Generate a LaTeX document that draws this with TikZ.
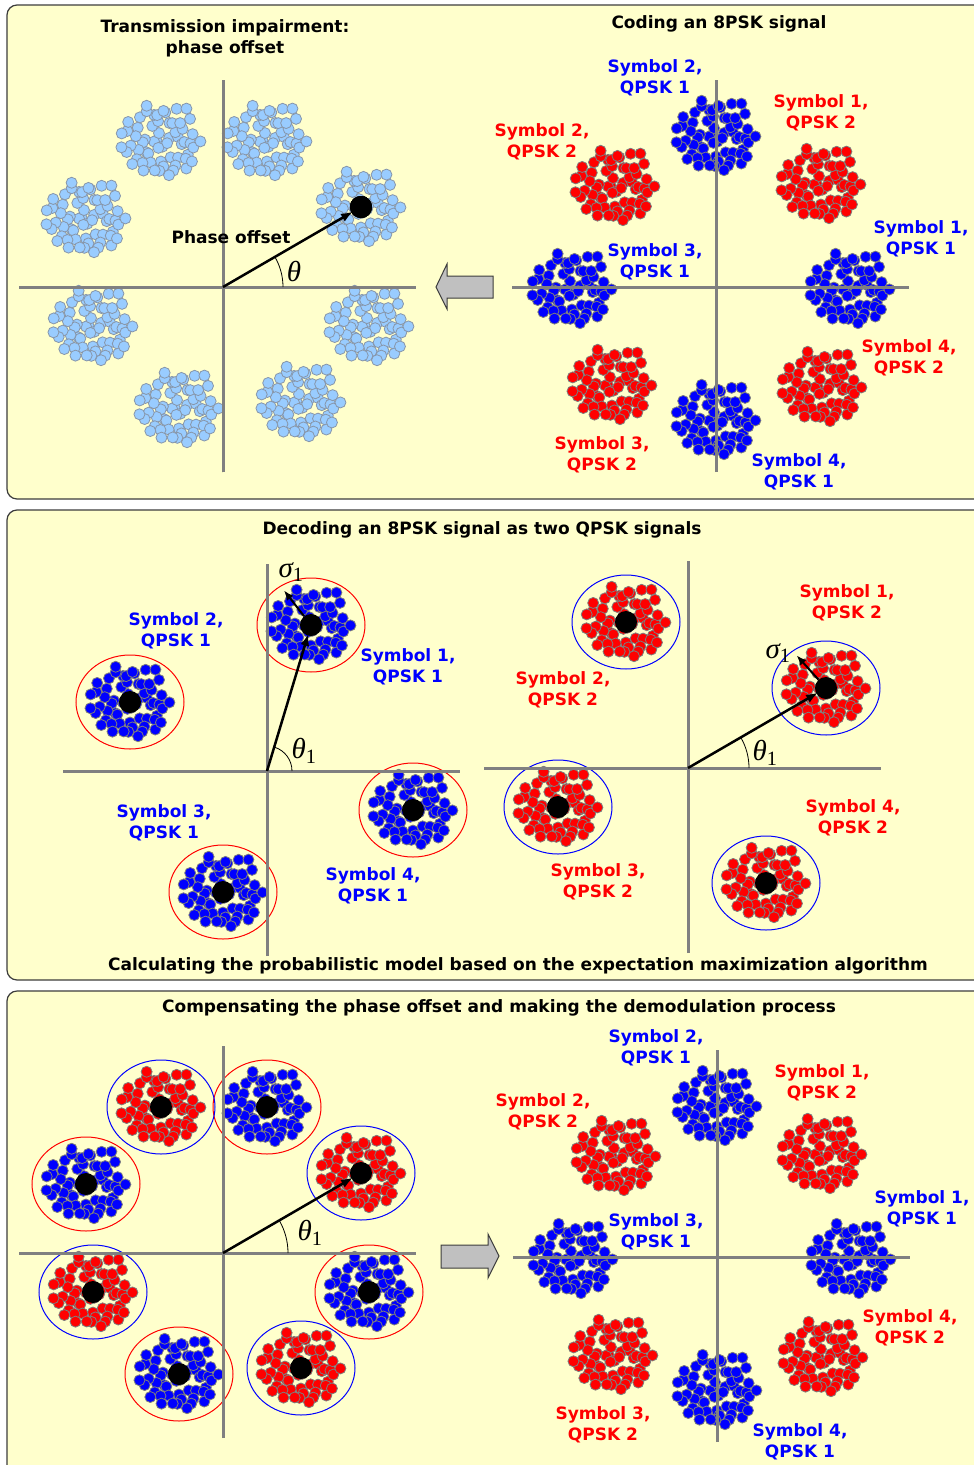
\documentclass[tikz,border=0pt]{standalone}
\usepackage{fontspec}
\setmainfont{DejaVu Sans}
\newfontfamily\greekfont{Liberation Serif}
\usetikzlibrary{arrows.meta}
\definecolor{PanelFill}{RGB}{255,255,204}
\definecolor{PanelEdge}{RGB}{60,60,60}
\definecolor{AxisGray}{RGB}{128,128,128}
\definecolor{QBlue}{RGB}{0,0,255}
\definecolor{QRed}{RGB}{255,0,0}
\definecolor{PaleBlue}{RGB}{153,204,255}
\definecolor{PaleEdge}{RGB}{135,150,170}
\definecolor{DotEdge}{RGB}{125,125,125}
\definecolor{ArrowFill}{RGB}{192,192,192}

\tikzset{
  panel/.style={fill=PanelFill,draw=PanelEdge,line width=1.2,rounded corners=10},
  axis/.style={draw=AxisGray,line width=3},
  bluedot/.style={fill=QBlue,draw=DotEdge,line width=0.8},
  reddot/.style={fill=QRed,draw=DotEdge,line width=0.8},
  paledot/.style={fill=PaleBlue,draw=PaleEdge,line width=0.8},
  redring/.style={draw=QRed,line width=1},
  bluering/.style={draw=QBlue,line width=1},
  centroid/.style={circle,fill=black,inner sep=0,minimum size=22},
  vec/.style={-{Latex[length=12pt,width=9pt]},line width=2.5,shorten >=-2},
  sigvec/.style={-{Latex[length=10pt,width=8pt]},line width=2},
  bluetxt/.style={text=QBlue,align=center,inner sep=0},
  redtxt/.style={text=QRed,align=center,inner sep=0},
  title/.style={align=center,inner sep=0},
  greek/.style={font=\greekfont\mdseries\itshape\fontsize{29}{29}\selectfont,inner sep=0},
  blockarrow/.style={fill=ArrowFill,draw=PanelEdge,line width=1}
}

% one noisy cluster of received symbols (sunflower spread plus jitter),
% the same pattern everywhere
\newcommand{\dotcloud}[2]{%
  \begin{scope}[shift={#1}]
    \pgfmathsetseed{2718}
    \foreach \k in {1,...,62}{
      \pgfmathsetmacro{\ang}{137.508*\k}
      \pgfmathsetmacro{\rad}{sqrt((\k-0.5)/62)}
      \pgfmathsetmacro{\jx}{8*rnd-4}
      \pgfmathsetmacro{\jy}{8*rnd-4}
      \path[#2] ({41*\rad*cos(\ang)+\jx},{37*\rad*sin(\ang)+\jy}) circle[radius=5.5];
    }
  \end{scope}}

\newcommand{\drawaxes}{%
  \draw[axis] (-204,0) -- (193,0);
  \draw[axis] (0,-185) -- (0,207);}

% 8PSK constellation split into QPSK 1 (blue) and QPSK 2 (red)
\newcommand{\codingset}[1]{%
  \dotcloud{(0,151)}{bluedot}
  \dotcloud{(134,-2)}{bluedot}
  \dotcloud{(-144,-2)}{bluedot}
  \dotcloud{(0,-133)}{bluedot}
  \dotcloud{(105,103)}{reddot}
  \dotcloud{(-101,101)}{reddot}
  \dotcloud{(-104,-98)}{reddot}
  \dotcloud{(106,-100)}{reddot}
  \drawaxes
  \node[bluetxt] (#1-s1q1) at (205,48) {Symbol 1,\\QPSK 1};
  \node[bluetxt] (#1-s2q1) at (-61,209) {Symbol 2,\\QPSK 1};
  \node[bluetxt] (#1-s3q1) at (-61,25) {Symbol 3,\\QPSK 1};
  \node[bluetxt] (#1-s4q1) at (83,-185) {Symbol 4,\\QPSK 1};
  \node[redtxt] (#1-s1q2) at (105,174) {Symbol 1,\\QPSK 2};
  \node[redtxt] (#1-s2q2) at (-174,145) {Symbol 2,\\QPSK 2};
  \node[redtxt] (#1-s3q2) at (-114,-168) {Symbol 3,\\QPSK 2};
  \node[redtxt] (#1-s4q2) at (193,-71) {Symbol 4,\\QPSK 2};}

\begin{document}
\begin{tikzpicture}[x=1pt,y=1pt,>=Latex,font=\bfseries\fontsize{17}{21}\selectfont]
\useasboundingbox (0,0) rectangle (974,-1465);
\fill[white] (0,0) rectangle (974,-1465);
\draw[panel] (7,-5) rectangle (1000,-499);
\draw[panel] (7,-510) rectangle (1000,-980);
\draw[panel] (7,-991) rectangle (1000,-1490);

% panel 1: impaired constellation and the coded one
\node[title] (t1) at (225,-38) {Transmission impairment:\\phase offset};
\node[title] (t2) at (719,-24) {Coding an 8PSK signal};
\begin{scope}[shift={(223,-287)}]
  \coordinate (o1) at (0,0);
  \foreach \x/\y in {44/146,-137/69,-44/-121,146/-39,138/80,-62/146,-130/-39,78/-115}
    \dotcloud{(\x,\y)}{paledot}
  \drawaxes
  \node[centroid] (m1) at (138,80) {};
  \draw[vec] (o1) -- (m1);
  \draw[line width=0.8] (60,0) arc[start angle=0,end angle=30,radius=60];
  \node[greek] (th1) at (71,16) {θ};
  \node (po) at (8,50) {Phase offset};
\end{scope}
\begin{scope}[shift={(716,-287)}]
  \codingset{a}
\end{scope}
\draw[blockarrow] (436,-287) -- (447,-264) -- (447,-276) -- (493,-276) -- (493,-298)
  -- (447,-298) -- (447,-309) -- cycle;

% panel 2: the two QPSK signals with their estimated models
\node[title] (t3) at (482,-530) {Decoding an 8PSK signal as two QPSK signals};
\node[title] (t4) at (518,-966) {Calculating the probabilistic model based on the expectation maximization algorithm};
\begin{scope}[shift={(267,-771)}]
  \coordinate (o2) at (0,0);
  \foreach \x/\y in {44/146,-137/69,-44/-121,146/-39}{
    \dotcloud{(\x,\y)}{bluedot}
    \draw[redring] (\x,\y) ellipse[x radius=54,y radius=47];
  }
  \drawaxes
  \node[centroid] (m21) at (44,146) {};
  \node[centroid] (m22) at (-137,69) {};
  \node[centroid] (m23) at (-44,-121) {};
  \node[centroid] (m24) at (146,-39) {};
  \draw[vec] (o2) -- (m21);
  \coordinate (sg2) at ([shift={(128:44)}]m21);
  \draw[sigvec] (m21) -- (sg2);
  \draw[line width=0.8] (25,0) arc[start angle=0,end angle=73,radius=25];
  \node[greek] (th2) at (37,20) {θ\textsubscript{\upshape 1}};
  \node[greek] (sl2) at (24,199) {σ\textsubscript{\upshape 1}};
  \node[bluetxt] (b1) at (141,104) {Symbol 1,\\QPSK 1};
  \node[bluetxt] (b2) at (-91,140) {Symbol 2,\\QPSK 1};
  \node[bluetxt] (b3) at (-103,-52) {Symbol 3,\\QPSK 1};
  \node[bluetxt] (b4) at (106,-115) {Symbol 4,\\QPSK 1};
\end{scope}
\begin{scope}[shift={(688,-768)}]
  \coordinate (o3) at (0,0);
  \foreach \x/\y in {138/80,-62/146,-130/-39,78/-115}{
    \dotcloud{(\x,\y)}{reddot}
    \draw[bluering] (\x,\y) ellipse[x radius=54,y radius=47];
  }
  \drawaxes
  \node[centroid] (m31) at (138,80) {};
  \node[centroid] (m32) at (-62,146) {};
  \node[centroid] (m33) at (-130,-39) {};
  \node[centroid] (m34) at (78,-115) {};
  \draw[vec] (o3) -- (m31);
  \coordinate (sg3) at ([shift={(132:44)}]m31);
  \draw[sigvec] (m31) -- (sg3);
  \draw[line width=0.8] (61,0) arc[start angle=0,end angle=30,radius=61];
  \node[greek] (th3) at (77,15) {θ\textsubscript{\upshape 1}};
  \node[greek] (sl3) at (90,115) {σ\textsubscript{\upshape 1}};
  \node[redtxt] (r1) at (159,165) {Symbol 1,\\QPSK 2};
  \node[redtxt] (r2) at (-125,78) {Symbol 2,\\QPSK 2};
  \node[redtxt] (r3) at (-90,-114) {Symbol 3,\\QPSK 2};
  \node[redtxt] (r4) at (165,-50) {Symbol 4,\\QPSK 2};
\end{scope}

% panel 3: phase offset removed, then demodulation
\node[title] (t5) at (499,-1008) {Compensating the phase offset and making the demodulation process};
\begin{scope}[shift={(223,-1253)}]
  \coordinate (o4) at (0,0);
  \foreach \x/\y in {44/146,-137/69,-44/-121,146/-39}{
    \dotcloud{(\x,\y)}{bluedot}
    \draw[redring] (\x,\y) ellipse[x radius=54,y radius=47];
  }
  \foreach \x/\y in {138/80,-62/146,-130/-39,78/-115}{
    \dotcloud{(\x,\y)}{reddot}
    \draw[bluering] (\x,\y) ellipse[x radius=54,y radius=47];
  }
  \drawaxes
  \foreach \x/\y [count=\i] in {44/146,-137/69,-44/-121,146/-39,138/80,-62/146,-130/-39,78/-115}
    \node[centroid] (m4\i) at (\x,\y) {};
  \draw[vec] (o4) -- (m45);
  \draw[line width=0.8] (65,0) arc[start angle=0,end angle=30,radius=65];
  \node[greek] (th4) at (87,20) {θ\textsubscript{\upshape 1}};
\end{scope}
\begin{scope}[shift={(717,-1257)}]
  \codingset{b}
\end{scope}
\draw[blockarrow] (499,-1256) -- (488,-1234) -- (488,-1245) -- (441,-1245) -- (441,-1268)
  -- (488,-1268) -- (488,-1278) -- cycle;
\end{tikzpicture}
\end{document}
